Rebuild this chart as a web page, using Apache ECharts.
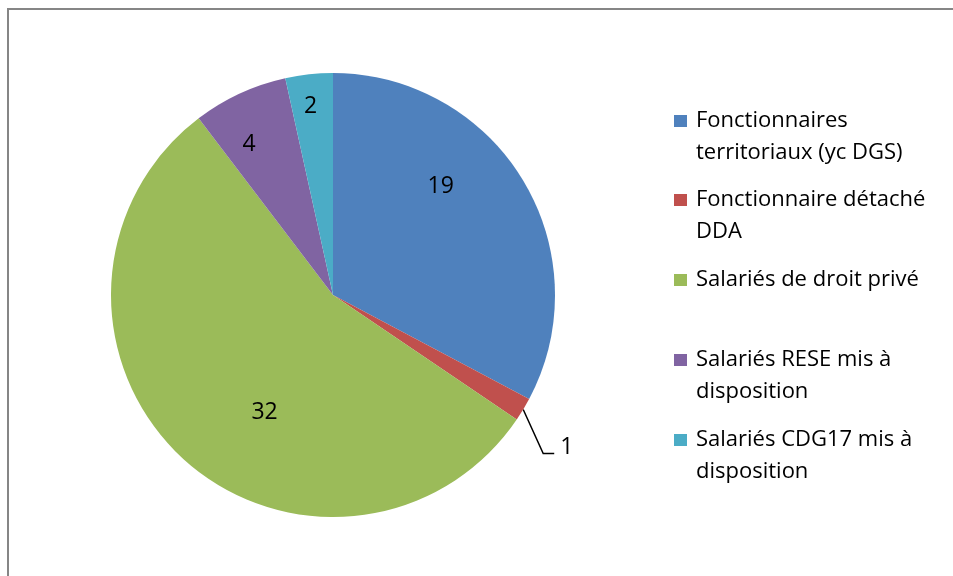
<!DOCTYPE html>
<html>
<head>
<meta charset="utf-8">
<script src="https://cdn.jsdelivr.net/npm/echarts@6/dist/echarts.min.js"></script>
<style>
  html, body { margin: 0; padding: 0; background: #fff; }
  #chart { width: 953px; height: 576px; }
</style>
</head>
<body>
<div id="chart"></div>
<script>
// catégories et effectifs
const categories = [
  "Fonctionnaires\nterritoriaux (yc DGS)",
  "Fonctionnaire détaché\nDDA",
  "Salariés de droit privé",
  "Salariés RESE mis à\ndisposition",
  "Salariés CDG17 mis à\ndisposition"
];
const values = [19, 1, 32, 4, 2];
const colors = ["#4F81BD", "#C0504D", "#9BBB59", "#8064A2", "#4BACC6"];

// décalage des étiquettes internes (style, pas des données)
const labelNudge = [[10, -50], [0, 0], [10, 35], [-36, -47], [-10, -75]];
// centre vertical du carré de chaque entrée de légende
const legendMid = [121, 200, 280, 360, 440];

const FONT = "'Open Sans', Lato, sans-serif";
const LINE_H = 32;

const chart = echarts.init(document.getElementById("chart"));

// une légende par entrée : ligne vide devant les noms sur deux lignes
// pour aligner le carré sur la première ligne
const legends = categories.map((name, i) => {
  const twoLines = name.indexOf("\n") >= 0;
  return {
    data: [name],
    orient: "vertical",
    left: 674,
    top: legendMid[i] - (twoLines ? LINE_H * 1.5 : LINE_H / 2),
    padding: 0,
    icon: "rect",
    itemWidth: 13,
    itemHeight: 12,
    selectedMode: false,
    formatter: n => (n.indexOf("\n") >= 0 ? " \n" + n : n),
    textStyle: {
      fontFamily: FONT,
      fontSize: 22,
      color: "#000",
      lineHeight: LINE_H,
      padding: [0, 0, 0, 4]
    }
  };
});

chart.setOption({
  backgroundColor: "#fff",
  animation: false,
  color: colors,
  graphic: [
    {
      type: "rect",
      shape: { x: 8, y: 9, width: 1000, height: 700 },
      style: { fill: "none", stroke: "#868686", lineWidth: 2 },
      silent: true
    }
  ],
  legend: legends,
  series: [
    {
      type: "pie",
      center: [333, 295],
      radius: 222,
      startAngle: 90,
      clockwise: true,
      avoidLabelOverlap: false,
      itemStyle: { borderWidth: 0 },
      label: {
        show: true,
        position: "inside",
        formatter: "{c}",
        fontFamily: FONT,
        fontSize: 23,
        color: "#000"
      },
      labelLine: { show: false },
      labelLayout: function (params) {
        const pts = params.labelLinePoints;
        if (values[params.dataIndex] === 1 && pts) {
          // ligne de rappel : descente oblique puis court palier horizontal
          const p0 = pts[0];
          const p1 = [p0[0] + 20, p0[1] + 44];
          const p2 = [p1[0] + 11, p1[1]];
          return {
            x: p2[0] + 6,
            y: p2[1] - 6,
            align: "left",
            verticalAlign: "middle",
            labelLinePoints: [p0, p1, p2]
          };
        }
        const n = labelNudge[params.dataIndex];
        return { dx: n[0], dy: n[1] };
      },
      data: categories.map((name, i) => {
        const item = { name: name, value: values[i] };
        if (values[i] === 1) {
          item.label = { position: "outside" };
          item.labelLine = {
            show: true,
            length: 30,
            length2: 12,
            lineStyle: { color: "#000", width: 1.5 }
          };
        }
        return item;
      })
    }
  ]
});
</script>
</body>
</html>
